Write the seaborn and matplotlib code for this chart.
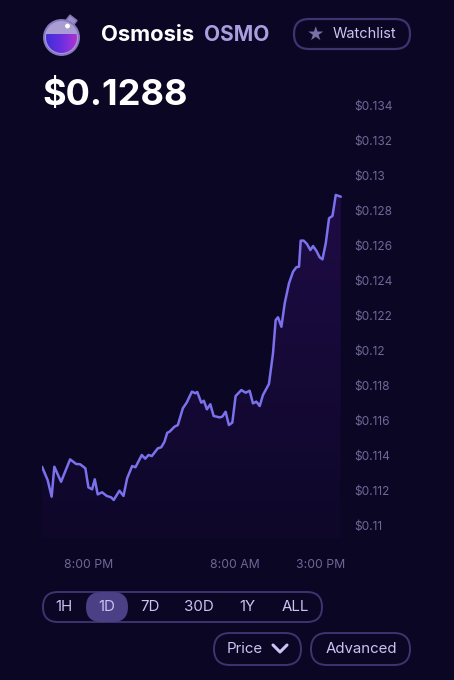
import numpy as np
import pandas as pd
import matplotlib
matplotlib.use("Agg")
import matplotlib.pyplot as plt
import seaborn as sns
from matplotlib.patches import FancyBboxPatch, Circle, Rectangle
from matplotlib.colors import LinearSegmentedColormap

# ---------------- data ----------------
hours = [-3.80, -3.34, -3.01, -2.79, -2.24, -1.50, -1.01, -0.68, -0.25, 0.00,
         0.30, 0.52, 0.76, 1.12, 1.50, 1.86, 2.07, 2.54, 2.87, 3.17,
         3.58, 3.85, 4.37, 4.65, 4.92, 5.19, 5.68, 5.96, 6.23, 6.45,
         6.64, 7.05, 7.32, 7.73, 8.06, 8.47, 8.75, 8.91, 9.24, 9.45,
         9.70, 9.98, 10.25, 10.74, 10.96, 11.23, 11.50, 11.78, 12.05, 12.52,
         12.87, 13.20, 13.47, 13.75, 14.02, 14.29, 14.78, 15.11, 15.33, 15.52,
         15.80, 16.07, 16.42, 16.75, 17.02, 17.24, 17.38, 17.62, 17.89, 18.17,
         18.39, 18.66, 18.93, 19.16, 19.43, 19.70, 19.98, 20.25, 20.66]
prices = [0.11333, 0.11257, 0.11162, 0.11333, 0.11247, 0.11375, 0.11349, 0.11347, 0.11324, 0.11215,
          0.11204, 0.11261, 0.11175, 0.11187, 0.11166, 0.11158, 0.11143, 0.11196, 0.11166, 0.11267,
          0.11337, 0.11330, 0.11400, 0.11379, 0.11400, 0.11394, 0.11438, 0.11444, 0.11476, 0.11527,
          0.11533, 0.11562, 0.11571, 0.11667, 0.11701, 0.11762, 0.11753, 0.11760, 0.11699, 0.11710,
          0.11661, 0.11690, 0.11623, 0.11615, 0.11619, 0.11647, 0.11571, 0.11585, 0.11737, 0.11771,
          0.11756, 0.11767, 0.11695, 0.11705, 0.11680, 0.11743, 0.11806, 0.11981, 0.12171, 0.12187,
          0.12133, 0.12267, 0.12381, 0.12447, 0.12473, 0.12476, 0.12625, 0.12625, 0.12606, 0.12571,
          0.12594, 0.12567, 0.12530, 0.12518, 0.12610, 0.12753, 0.12766, 0.12886, 0.12876]

y_ticks = [0.110, 0.112, 0.114, 0.116, 0.118, 0.120, 0.122, 0.124, 0.126, 0.128, 0.130, 0.132, 0.134]
y_tick_labels = ["$0.11", "$0.112", "$0.114", "$0.116", "$0.118", "$0.12", "$0.122",
                 "$0.124", "$0.126", "$0.128", "$0.13", "$0.132", "$0.134"]
x_ticks = [0, 12, 19]
x_tick_labels = ["8:00 PM", "8:00 AM", "3:00 PM"]

coin_name = "Osmosis"
coin_symbol = "OSMO"
current_price = "$0.1288"
ranges = ["1H", "1D", "7D", "30D", "1Y", "ALL"]
selected_range = "1D"

df = pd.DataFrame({"hour": hours, "price": prices})

# ---------------- style ----------------
BG = "#0b0623"
LINE = "#7b71ec"
TICK = "#6f6796"
BTN_TXT = "#cbc4f2"
BORDER = "#3d3470"

sns.set_theme(style="dark")
plt.rcParams["font.family"] = ["Inter", "DejaVu Sans"]

W, H = 454, 680
fig = plt.figure(figsize=(W / 100, H / 100), dpi=100, facecolor=BG)

# overlay for UI (pixel coords)
ui = fig.add_axes([0, 0, 1, 1], zorder=0)
ui.set_xlim(0, W)
ui.set_ylim(H, 0)
ui.axis("off")
ui.set_facecolor(BG)

# chart axes box in pixels
L, R, T, B = 42, 342, 100, 538
ax = fig.add_axes([L / W, 1 - B / H, (R - L) / W, (B - T) / H], zorder=1)
ax.set_facecolor("none")

px_per_unit = 17500.0
ymin = 0.110 - (B - 525) / px_per_unit
ymax = 0.134 + (105 - T) / px_per_unit

# gradient fill under the line
grad = np.linspace(1, 0, 256).reshape(-1, 1)
cmap = LinearSegmentedColormap.from_list("f", [(0, "#0e0729"), (1, "#1e0c45")])
poly = ax.fill_between(df["hour"], df["price"], ymin, color="none", lw=0)
img = ax.imshow(grad, aspect="auto", cmap=cmap,
                extent=[df["hour"].min(), df["hour"].max(), ymin, max(prices)],
                origin="upper", zorder=1)
img.set_clip_path(poly.get_paths()[0], transform=ax.transData)

sns.lineplot(data=df, x="hour", y="price", ax=ax, color=LINE, lw=1.8, zorder=3)

ax.set_xlim(df["hour"].min(), df["hour"].max() + 0.1)
ax.set_ylim(ymin, ymax)
ax.yaxis.tick_right()
ax.set_yticks(y_ticks)
ax.set_yticklabels(y_tick_labels)
ax.set_xticks(x_ticks)
ax.set_xticklabels(x_tick_labels)
ax.tick_params(axis="y", colors=TICK, labelsize=8.6, pad=9, length=0)
ax.tick_params(axis="x", colors=TICK, labelsize=8.8, pad=15, length=0)
for lab in ax.get_yticklabels():
    lab.set_horizontalalignment("left")
ax.set_xlabel("")
ax.set_ylabel("")
ax.grid(False)
for s in ax.spines.values():
    s.set_visible(False)

# ---------------- header ----------------
# coin icon
cx, cy, r = 61.5, 37.5, 17.5
neck = Rectangle((70, 15), 9, 7, angle=38, fc="#9c8fc6", ec="#7d70ad", lw=1, zorder=2)
ui.add_patch(neck)
ball = Circle((cx, cy), r, fc="#a99dd2", ec="#8677bf", lw=1.4, zorder=3)
ui.add_patch(ball)
inner = Circle((cx, cy), r - 2.0, fc="none", ec="none", zorder=4)
ui.add_patch(inner)
liq_cmap = LinearSegmentedColormap.from_list("liq", ["#3a2ed8", "#6a2fe0", "#b634d2"])
gx = np.linspace(0, 1, 128).reshape(1, -1)
liq = ui.imshow(gx, cmap=liq_cmap, extent=[cx - r, cx + r, cy + r, cy - 3],
                aspect="auto", zorder=4)
liq.set_clip_path(inner)
ui.add_patch(Circle((67.5, 26), 2.4, fc="white", ec="none", zorder=5))

ui.text(101, 35, coin_name, color="white", fontsize=15.8, fontweight="bold",
        va="center", ha="left", family=["Inter", "DejaVu Sans"])
ui.text(204, 35, coin_symbol, color="#a99fe0", fontsize=15, fontweight="bold",
        va="center", ha="left", family=["Inter", "DejaVu Sans"])

ui.add_patch(FancyBboxPatch((294, 19), 116, 30, boxstyle="round,pad=0,rounding_size=15",
                            fc="none", ec=BORDER, lw=1.6))
ui.text(315, 34.5, "★", color="#7a70a8", fontsize=14, va="center", ha="center",
        family=["DejaVu Sans"])
ui.text(364, 34.5, "Watchlist", color=BTN_TXT, fontsize=10.5, va="center", ha="center")

ui.text(42, 96, current_price, color="white", fontsize=26, fontweight="bold",
        va="center", ha="left", family=["Inter", "DejaVu Sans"])

# ---------------- range selector ----------------
ui.add_patch(FancyBboxPatch((43, 592), 279, 30, boxstyle="round,pad=0,rounding_size=15",
                            fc="none", ec=BORDER, lw=1.4))
range_x = [64, 107, 150, 199, 247, 295]
for name, xx in zip(ranges, range_x):
    if name == selected_range:
        ui.add_patch(FancyBboxPatch((xx - 21, 592), 42, 30,
                                    boxstyle="round,pad=0,rounding_size=15",
                                    fc="#4b3f85", ec="none"))
    ui.text(xx, 607, name, color=BTN_TXT, fontsize=10.8, va="center", ha="center")

# Price / Advanced buttons
ui.add_patch(FancyBboxPatch((214, 633), 87, 32, boxstyle="round,pad=0,rounding_size=16",
                            fc="none", ec=BORDER, lw=1.4))
ui.text(245, 649, "Price", color=BTN_TXT, fontsize=10.8, va="center", ha="center")
ui.plot([273, 280, 287], [645, 652, 645], color=BTN_TXT, lw=2.2,
        solid_capstyle="round", solid_joinstyle="round")
ui.add_patch(FancyBboxPatch((311, 633), 99, 32, boxstyle="round,pad=0,rounding_size=16",
                            fc="none", ec=BORDER, lw=1.4))
ui.text(361, 649, "Advanced", color=BTN_TXT, fontsize=10.8, va="center", ha="center")

fig.savefig("out.png", dpi=100, facecolor=BG)
